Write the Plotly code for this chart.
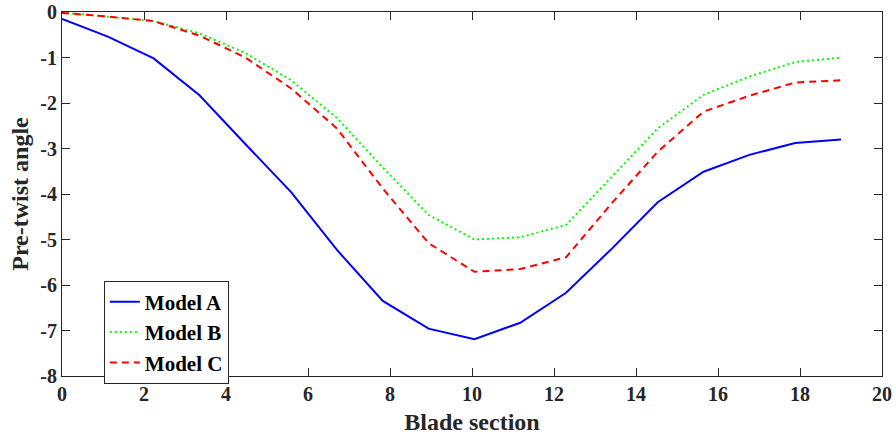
import plotly.graph_objects as go

blade_section = [0, 1.118, 2.235, 3.353, 4.471, 5.588, 6.706, 7.824, 8.941,
                 10.059, 11.176, 12.294, 13.412, 14.529, 15.647, 16.765, 17.882, 19.0]
model_a = [-0.15, -0.54, -1.02, -1.83, -2.9, -3.96, -5.23, -6.35, -6.96,
           -7.19, -6.83, -6.17, -5.2, -4.18, -3.51, -3.14, -2.88, -2.8]
model_b = [-0.01, -0.11, -0.2, -0.47, -0.9, -1.5, -2.33, -3.42, -4.46,
           -5.0, -4.95, -4.68, -3.62, -2.56, -1.82, -1.42, -1.1, -1.0]
model_c = [-0.02, -0.1, -0.2, -0.52, -1.0, -1.68, -2.56, -3.88, -5.08,
           -5.71, -5.65, -5.39, -4.2, -3.07, -2.19, -1.84, -1.55, -1.5]

x_ticks = [0, 2, 4, 6, 8, 10, 12, 14, 16, 18, 20]
y_ticks = [0, -1, -2, -3, -4, -5, -6, -7, -8]

series = [
    ("Model A", model_a, "#0000ff", "solid"),
    ("Model B", model_b, "#00ff00", "2px,3px"),
    ("Model C", model_c, "#ff0000", "7px,5px"),
]

FONT = "Liberation Serif, Times New Roman, serif"
fig = go.Figure()
for name, ys, color, dash in series:
    fig.add_trace(go.Scatter(x=blade_section, y=ys, mode="lines", name="<b>%s</b>" % name,
                             line=dict(color=color, width=2, dash=dash)))

axis_common = dict(
    showgrid=False, zeroline=False, showline=True, linecolor="#262626",
    linewidth=1, mirror="ticks", ticks="inside", ticklen=8, tickcolor="#262626",
    tickfont=dict(family=FONT, size=20, color="#262626"), automargin=False,
)
title_font = dict(family=FONT, size=24, color="#262626")
fig.update_xaxes(range=[0, 20], tickmode="array", tickvals=x_ticks,
                 ticktext=["<b>%d</b>" % v for v in x_ticks],
                 title=dict(text="<b>Blade section</b>", font=title_font, standoff=9),
                 **axis_common)
fig.update_yaxes(range=[-8, 0], tickmode="array", tickvals=y_ticks,
                 ticktext=["<b>%d</b>" % v for v in y_ticks],
                 title=dict(text="<b>Pre-twist angle</b>", font=title_font, standoff=4),
                 **axis_common)
fig.update_layout(
    width=896, height=437,
    margin=dict(l=62, r=14, t=12, b=61),
    plot_bgcolor="white", paper_bgcolor="white",
    legend=dict(x=0.051, y=0.262, xanchor="left", yanchor="top",
                bgcolor="white", bordercolor="#262626", borderwidth=1,
                font=dict(family=FONT, size=21, color="black"),
                tracegroupgap=0, itemwidth=30),
    showlegend=True,
)
fig.write_html("out.html")
